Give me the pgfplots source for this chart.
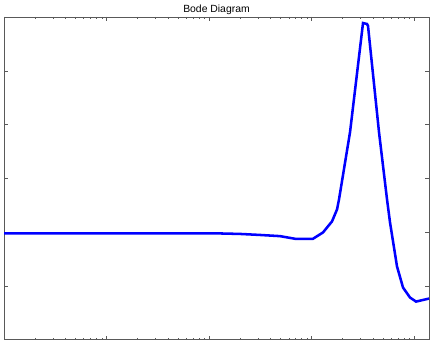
\documentclass[border=0pt]{standalone}
\usepackage{pgfplots}
\pgfplotsset{compat=1.18}
\usepackage{fontspec}
\setmainfont{Liberation Sans}
\begin{document}
\begin{tikzpicture}
\begin{axis}[
  name=ax,
  scale only axis,
  width=318.75pt, height=242pt,
  xmode=log,
  xmin=1, xmax=14000,
  ymin=-40, ymax=20,
  ytick={-40,-30,...,20},
  xticklabels={}, yticklabels={},
  xtick pos=both, ytick pos=both,
  tick align=inside,
  major tick length=3pt, minor tick length=1.6pt,
  axis line style={black!65},
  every tick/.style={black!65, line width=0.4pt},
  title={Bode Diagram},
  title style={font=\fontsize{7.8}{9}\selectfont, at={(0.5,1)}, anchor=base, yshift=-3pt},
]
\addplot[blue, line width=1.9pt] coordinates {
(1,-20.25) (128,-20.25) (200.6,-20.34) (314.5,-20.53) (492.8,-20.75)
(690.2,-21.24) (1034,-21.24) (1295,-20.06) (1585,-18.01) (1774,-15.78)
(1855,-13.91) (2375,-1.43) (3180,18.88) (3479,18.70) (3558,18.32)
(4555,-1.43) (5452,-13.91) (5832,-18.20) (6826,-26.40) (7810,-30.31)
(9142,-32.17) (10460,-32.92) (14000,-32.36)
};
\end{axis}
\pgfresetboundingbox
\path ([xshift=-3pt,yshift=-6pt]ax.south west) rectangle ([xshift=2.25pt,yshift=12.75pt]ax.north east);
\end{tikzpicture}
\end{document}
